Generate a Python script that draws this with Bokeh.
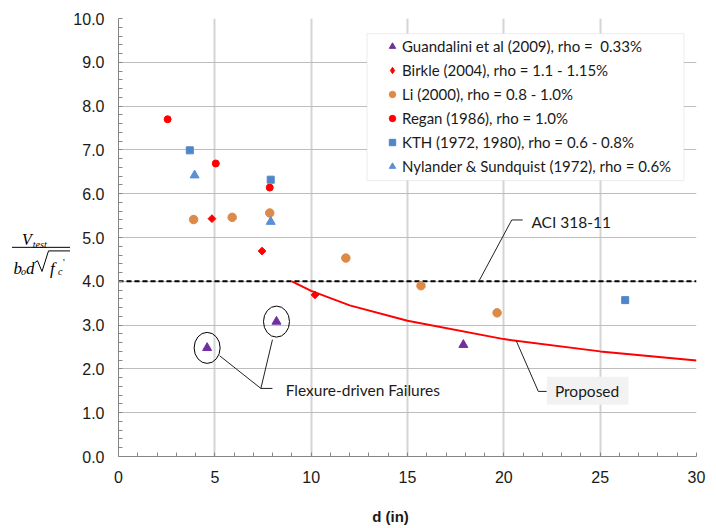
import numpy as np
from bokeh.plotting import figure
from bokeh.layouts import row, column
from bokeh.models import (Range1d, SingleIntervalTicker, PrintfTickFormatter, Legend,
                          LegendItem, Label, BoxAnnotation)
from bokeh.embed import file_html
from bokeh.resources import INLINE

# ---- data ----
guand_d = [4.6, 8.2, 17.9]
guand_v = [2.48, 3.08, 2.55]
birkle_d = [4.85, 7.45, 10.2]
birkle_v = [5.43, 4.69, 3.69]
li_d = [3.9, 5.9, 7.85, 11.8, 15.7, 19.65]
li_v = [5.41, 5.46, 5.56, 4.53, 3.90, 3.28]
regan_d = [2.55, 5.05, 7.85]
regan_v = [7.70, 6.69, 6.14]
kth_d = [3.7, 7.9, 26.3]
kth_v = [6.99, 6.32, 3.57]
nyl_d = [3.95, 7.9]
nyl_v = [6.42, 5.36]
aci_v = 4.0
prop_d = [9, 10, 12, 15, 20, 25, 30]
prop_v = [4.0, 3.78, 3.45, 3.10, 2.68, 2.40, 2.19]

labels = ["Guandalini et al (2009), rho =  0.33%",
          "Birkle (2004), rho = 1.1 - 1.15%",
          "Li (2000), rho = 0.8 - 1.0%",
          "Regan (1986), rho = 1.0%",
          "KTH (1972, 1980), rho = 0.6 - 0.8%",
          "Nylander & Sundquist (1972), rho = 0.6%"]
x_ticks_interval = 5
y_ticks_interval = 1

TXT = "Lato"

p = figure(width=638, height=490, x_range=Range1d(0, 30), y_range=Range1d(0, 10),
           output_backend="svg", toolbar_location=None,
           min_border_left=46, min_border_right=12, min_border_top=18, min_border_bottom=34)
p.outline_line_color = None
p.background_fill_color = "white"

p.xaxis.ticker = SingleIntervalTicker(interval=x_ticks_interval, num_minor_ticks=5)
p.yaxis.ticker = SingleIntervalTicker(interval=y_ticks_interval, num_minor_ticks=5)
p.yaxis.formatter = PrintfTickFormatter(format="%.1f")
for ax in (p.xaxis[0], p.yaxis[0]):
    ax.major_tick_in = 0
    ax.major_tick_out = 0
    ax.minor_tick_in = 4
    ax.minor_tick_out = 0
    ax.axis_line_color = "#868686"
    ax.minor_tick_line_color = "#868686"
    ax.major_label_text_font = "Liberation Sans"
    ax.major_label_text_font_size = "16px"
    ax.major_label_text_color = "#1a1a1a"
p.yaxis.major_label_standoff = 14
p.xaxis.major_label_standoff = 14

p.xgrid.grid_line_color = "#d4d4d4"
p.xgrid.grid_line_width = 2
p.ygrid.grid_line_color = "#bdbdbd"
p.ygrid.grid_line_width = 1.2

# ACI line
p.line([0, 30], [aci_v, aci_v], line_color="black", line_width=2, line_dash="5 3")
# Proposed
p.line(prop_d, prop_v, line_color="#ff0000", line_width=2)

r_g = p.scatter(guand_d, guand_v, marker="triangle", size=9, color="#7030a0")
r_b = p.scatter(birkle_d, birkle_v, marker="square", angle=np.pi / 4, size=5.5, color="#ff0000")
r_b_leg = p.scatter(birkle_d, birkle_v, marker="diamond", size=9, color="#ff0000", visible=False)
r_l = p.scatter(li_d, li_v, marker="circle", size=8.5, color="#dd8a47")
r_r = p.scatter(regan_d, regan_v, marker="circle", size=7, color="#ff0000")
r_k = p.scatter(kth_d, kth_v, marker="square", size=7, color="#4f86c8")
r_n = p.scatter(nyl_d, nyl_v, marker="triangle", size=9, color="#5b8fd6")

# ellipses round flexure-driven failures
p.ellipse(x=guand_d[:2], y=guand_v[:2], width=26, height=31,
          width_units="screen", height_units="screen",
          fill_color=None, line_color="black", line_width=1)

# leader lines
p.multi_line(xs=[[5.25, 7.39, 7.99], [7.99, 7.39]],
             ys=[[2.30, 1.554, 1.554], [2.667, 1.554]], line_color="#222222", line_width=1)
p.line([18.69, 20.41, 20.98], [3.99, 5.40, 5.40], line_color="#222222", line_width=1)
p.line([20.64, 21.79, 22.23], [2.645, 1.486, 1.486], line_color="#222222", line_width=1)
p.quad(left=22.23, right=26.47, bottom=1.18, top=1.82, fill_color="#f2f2f2", line_color=None)

for txt, x, y in [("Flexure-driven Failures", 8.68, 1.518),
                  ("ACI 318-11", 21.43, 5.36),
                  ("Proposed", 22.65, 1.50)]:
    p.add_layout(Label(x=x, y=y, text=txt, text_font=TXT, text_font_size="15.5px",
                       text_color="#1a1a1a", text_baseline="middle", text_align="left"))

# legend box + legend
p.add_layout(BoxAnnotation(left=12.9, right=29.35, top=9.655, bottom=6.30,
                           fill_color="white", fill_alpha=1, line_color="#bfbfbf", line_width=1))
legend = Legend(items=[LegendItem(label=l, renderers=[r]) for l, r in
                       zip(labels, [r_g, r_b_leg, r_l, r_r, r_k, r_n])],
                location=(266, 278), padding=0, margin=0, spacing=0,
                label_height=24, glyph_height=24, glyph_width=16, label_standoff=2,
                border_line_color=None, background_fill_alpha=0,
                label_text_font=TXT, label_text_font_size="15px", label_text_color="#1a1a1a")
p.add_layout(legend, "center")

# ---- y axis title panel (pixel coordinates) ----
yl = figure(width=70, height=490, x_range=Range1d(0, 70), y_range=Range1d(490, 0),
            output_backend="svg", toolbar_location=None, min_border=0,
            x_axis_type=None, y_axis_type=None)
yl.outline_line_color = None
yl.grid.visible = False
SER = "Liberation Serif"

def lab(t, x, y, size, style="italic"):
    yl.add_layout(Label(x=x, y=y, text=t, text_font=SER, text_font_size=size,
                        text_font_style=style, text_baseline="alphabetic",
                        text_align="left", text_color="black"))

lab("V", 21.5, 246.7, "16px")
lab("test", 32.3, 253, "10px")
lab("b", 13, 279.3, "17px")
lab("o", 20.5, 282.7, "10px")
lab("d", 25.5, 279.3, "17px")
lab("f", 49.5, 279.3, "17px")
lab("c", 57.5, 282.5, "10px")
lab("'", 62.5, 273, "10px", "normal")
yl.line([11.5, 70], [256, 256], line_color="black", line_width=1)
yl.line([34.5, 37, 41.5, 48, 70], [273, 271, 283, 260, 260], line_color="black", line_width=1)

# ---- x axis title panel ----
xl = figure(width=708, height=36, x_range=Range1d(0, 708), y_range=Range1d(36, 0),
            output_backend="svg", toolbar_location=None, min_border=0,
            x_axis_type=None, y_axis_type=None)
xl.outline_line_color = None
xl.grid.visible = False
xl.add_layout(Label(x=390, y=26, text="d (in)", text_font="Liberation Sans",
                    text_font_size="15px", text_font_style="bold", text_align="center",
                    text_baseline="middle", text_color="#1a1a1a"))

layout = column(row(yl, p), xl)
open("out.html", "w").write(file_html(layout, INLINE))
